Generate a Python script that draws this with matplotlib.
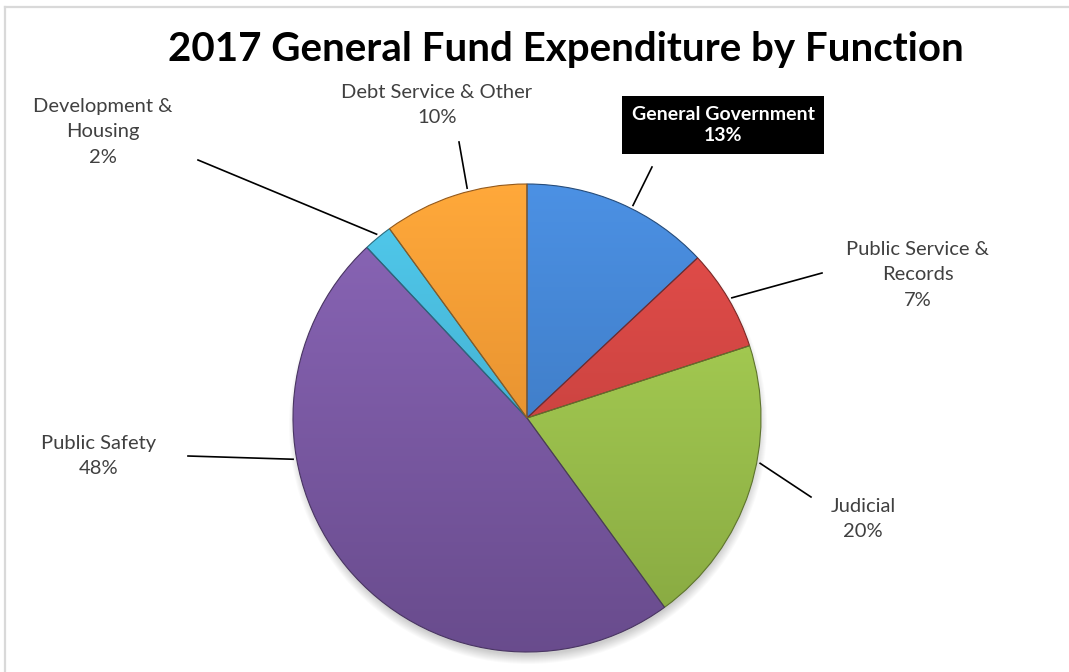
import numpy as np
import matplotlib.pyplot as plt
from matplotlib.colors import to_rgb
from matplotlib.patches import Circle

# General fund expenditure shares, clockwise from 12 o'clock
categories = ["General Government", "Public Service &\nRecords", "Judicial",
              "Public Safety", "Development &\nHousing", "Debt Service & Other"]
shares = [13, 7, 20, 48, 2, 10]
colors = ["#3f7fcc", "#cf423f", "#9cc24b", "#7a58a4", "#44b5d6", "#f5952f"]

# label layout, in pixels from the top-left corner
label_pos = [(723, 125), (918, 275), (863, 519), (99, 456), (103, 132), (437, 105)]
line_start = [(652, 167), (822, 273), (811, 497), (188, 456), (198, 160), (459, 142)]
anchor_deg = [63.5, 30.4, -11.0, -170.0, 129.3, 104.6]

W, H = 1069, 672
fig = plt.figure(figsize=(W / 100, H / 100), dpi=100)
ax = fig.add_axes([0, 0, 1, 1])

cx, cy, r = 527, H - 418, 234

# soft drop shadow under the pie
for k in range(10):
    ax.add_patch(Circle((cx + 1, cy - 7), r + 5 - k, color="k", alpha=0.018,
                        lw=0, zorder=1))

wedges, _ = ax.pie(shares, colors=colors, startangle=90, counterclock=False,
                   center=(cx, cy), radius=r, frame=True,
                   wedgeprops=dict(lw=0.8, zorder=3))

# vertical gradient fill clipped to each wedge
grad = np.linspace(0, 1, 256)[:, None, None]
for w, c in zip(wedges, colors):
    base = np.array(to_rgb(c))
    top = np.clip(base * 1.08 + 0.03, 0, 1)
    bot = base * 0.86
    img = top * (1 - grad) + bot * grad
    im = ax.imshow(img, extent=(cx - r, cx + r, cy - r, cy + r), origin="upper",
                   aspect="auto", zorder=2, interpolation="bilinear")
    im.set_clip_path(w)
    w.set_facecolor("none")
    w.set_edgecolor(tuple(base * 0.6))

# leader lines and labels
for i, (lab, s) in enumerate(zip(categories, shares)):
    a = np.deg2rad(anchor_deg[i])
    ex, ey = cx + r * 1.015 * np.cos(a), cy + r * 1.015 * np.sin(a)
    sx, sy = line_start[i]
    ax.plot([sx, ex], [H - sy, ey], color="black", lw=1.2, zorder=4)
    lx, ly = label_pos[i]
    txt = "%s\n%d%%" % (lab, s)
    if i == 0:
        ax.text(lx, H - ly, txt, ha="center", va="center", fontsize=14,
                fontweight="bold", color="white", family="Lato", linespacing=1.35,
                bbox=dict(boxstyle="square,pad=0.5", fc="black", ec="none"), zorder=5)
    else:
        ax.text(lx, H - ly, txt, ha="center", va="center", fontsize=14.5,
                color="#404040", family="Lato", linespacing=1.6, zorder=5)

ax.text(566, H - 50, "2017 General Fund Expenditure by Function", ha="center",
        va="center", fontsize=29, fontweight="bold", family="Lato", color="black")

# chart frame
ax.plot([5, W], [H - 7, H - 7], color="#d9d9d9", lw=1.6, zorder=6)
ax.plot([5, 5], [0, H - 7], color="#d9d9d9", lw=1.6, zorder=6)

ax.set_xlim(0, W)
ax.set_ylim(0, H)
ax.axis("off")

fig.savefig("out.png", dpi=100, facecolor="white")
